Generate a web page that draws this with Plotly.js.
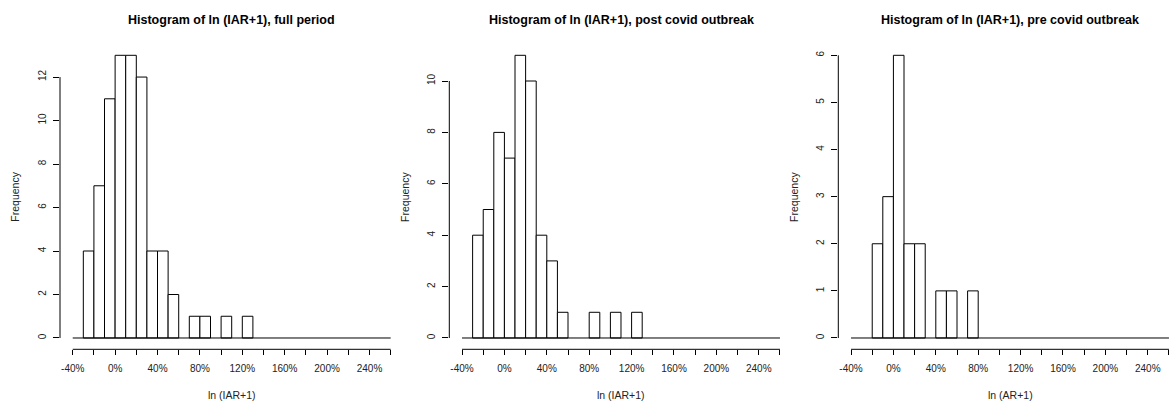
<!DOCTYPE html>
<html>
<head>
<meta charset="utf-8">
<script src="https://cdn.plot.ly/plotly-3.0.1.min.js"></script>
<style>
  html, body { margin: 0; padding: 0; background: #fff; overflow: hidden; }
  #chart { width: 1190px; height: 405px; }
</style>
</head>
<body>
<div id="chart"></div>
<script>
// Bin midpoints of ln(IAR+1), bins are 10% wide
const binMids = [-0.25, -0.15, -0.05, 0.05, 0.15, 0.25, 0.35, 0.45, 0.55, 0.65, 0.75, 0.85, 0.95, 1.05, 1.15, 1.25];
const binWidth = 0.1;
// Outer break range of the histograms
const breakRange = [-0.4, 2.6];

// Frequencies per bin
const fullCounts = [4, 7, 11, 13, 13, 12, 4, 4, 2, 0, 1, 1, 0, 1, 0, 1];
const postCounts = [4, 5, 8, 7, 11, 10, 4, 3, 1, 0, 0, 1, 0, 1, 0, 1];
const preCounts  = [0, 2, 3, 6, 2, 2, 0, 1, 1, 0, 1, 0, 0, 0, 0, 0];

// Panel texts
const panelTitles = [
  "Histogram of ln (IAR+1), full period",
  "Histogram of ln (IAR+1), post covid outbreak",
  "Histogram of ln (IAR+1), pre covid outbreak"
];
const xTitles = ["ln (IAR+1)", "ln (IAR+1)", "ln (AR+1)"];
const yTitle = "Frequency";

// x tick positions and labels
const xTickVals = [-0.4, -0.2, 0, 0.2, 0.4, 0.6, 0.8, 1.0, 1.2, 1.4, 1.6, 1.8, 2.0, 2.2, 2.4, 2.6];
const xTickText = ["-40%", "", "0%", "", "40%", "", "80%", "", "120%", "", "160%", "", "200%", "", "240%", ""];

// y ticks per panel
const yTicks = [
  [0, 2, 4, 6, 8, 10, 12],
  [0, 2, 4, 6, 8, 10],
  [0, 1, 2, 3, 4, 5, 6]
];

const series = [fullCounts, postCounts, preCounts];

const W = 1190, H = 405;
const xDomains = [
  [60 / W, 403.4 / W],
  [449.3 / W, 792.7 / W],
  [838.3 / W, 1181.7 / W]
];
const yDomain = [(H - 349.3) / H, (H - 44) / H];

const textColor = "#222";
const fontFamily = "Liberation Sans, Arial, sans-serif";

const traces = [];
const shapes = [];
const annotations = [];
const layout = {
  width: W, height: H,
  margin: { l: 0, r: 0, t: 0, b: 0 },
  paper_bgcolor: "#fff",
  plot_bgcolor: "#fff",
  showlegend: false,
  bargap: 0,
  font: { family: fontFamily, size: 10, color: textColor }
};

series.forEach((counts, i) => {
  const xa = i === 0 ? "x" : "x" + (i + 1);
  const ya = i === 0 ? "y" : "y" + (i + 1);
  const xKey = i === 0 ? "xaxis" : "xaxis" + (i + 1);
  const yKey = i === 0 ? "yaxis" : "yaxis" + (i + 1);
  const yMax = Math.max.apply(null, counts);

  // flat baseline over the full break range (empty bins)
  traces.push({
    type: "scatter", mode: "lines",
    x: breakRange, y: [0, 0],
    xaxis: xa, yaxis: ya,
    line: { color: "#000", width: 1 },
    hoverinfo: "skip"
  });

  // empty bins are left to the baseline
  traces.push({
    type: "bar",
    x: binMids, y: counts.map(c => (c > 0 ? c : null)),
    width: binWidth,
    xaxis: xa, yaxis: ya,
    marker: { color: "#fff", line: { color: "#000", width: 1 } }
  });

  const xSpan = breakRange[1] - breakRange[0];
  layout[xKey] = {
    domain: xDomains[i],
    anchor: ya,
    range: [breakRange[0] - 0.04 * xSpan, breakRange[1] + 0.04 * xSpan],
    showgrid: false, zeroline: false, showline: false,
    ticks: "outside", ticklen: 5, tickwidth: 1, tickcolor: "#000",
    tickvals: xTickVals, ticktext: xTickText,
    ticklabelstandoff: 5,
    tickfont: { size: 10, color: textColor, family: fontFamily },
    fixedrange: true
  };
  layout[yKey] = {
    domain: yDomain,
    anchor: xa,
    range: [-0.04 * yMax, yMax * 1.04],
    showgrid: false, zeroline: false, showline: false,
    ticks: "outside", ticklen: 6, tickwidth: 1, tickcolor: "#000",
    tickvals: yTicks[i],
    tickangle: -90,
    ticklabelstandoff: 3,
    tickfont: { size: 10, color: textColor, family: fontFamily },
    fixedrange: true
  };

  // R-style axis lines spanning only the tick range
  shapes.push({
    type: "line", xref: xa, yref: ya + " domain",
    x0: xTickVals[0], x1: xTickVals[xTickVals.length - 1], y0: 0, y1: 0,
    line: { color: "#000", width: 1 }
  });
  const yt = yTicks[i];
  shapes.push({
    type: "line", xref: xa + " domain", yref: ya,
    x0: 0, x1: 0, y0: yt[0], y1: yt[yt.length - 1],
    line: { color: "#000", width: 1 }
  });

  annotations.push({
    text: "<b>" + panelTitles[i] + "</b>",
    xref: xa + " domain", yref: "paper",
    x: 0.5, y: 1 - 20 / H, xanchor: "center", yanchor: "middle",
    showarrow: false,
    font: { size: 12.5, color: "#000", family: fontFamily }
  });
  annotations.push({
    text: xTitles[i],
    xref: xa + " domain", yref: "paper",
    x: 0.5, y: 1 - 395 / H, xanchor: "center", yanchor: "middle",
    showarrow: false,
    font: { size: 10.5, color: textColor, family: fontFamily }
  });
  annotations.push({
    text: yTitle,
    xref: xa + " domain", yref: ya + " domain",
    x: 0, y: 0.5, xshift: -45, xanchor: "center", yanchor: "middle",
    textangle: -90,
    showarrow: false,
    font: { size: 10.5, color: textColor, family: fontFamily }
  });
});

layout.shapes = shapes;
layout.annotations = annotations;

Plotly.newPlot("chart", traces, layout, { staticPlot: true, displayModeBar: false });
</script>
</body>
</html>
